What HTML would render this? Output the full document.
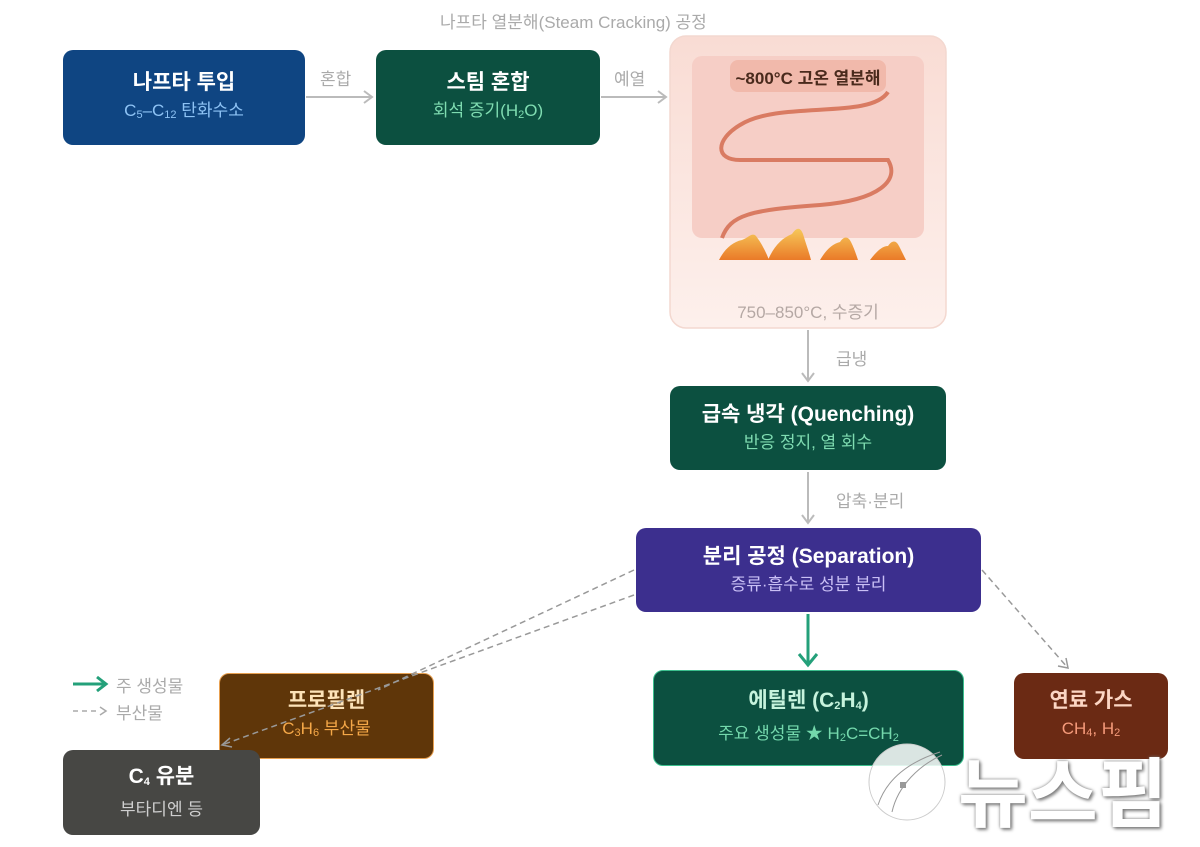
<!DOCTYPE html>
<html><head><meta charset="utf-8"><style>
body{margin:0;width:1200px;height:847px;background:#fff;position:relative;overflow:hidden;font-family:"Liberation Sans","Noto Sans CJK KR",sans-serif}
.b{position:absolute;border-radius:10px;display:flex;flex-direction:column;align-items:center;justify-content:center;text-align:center}
.t{font-size:21px;font-weight:bold;color:#fff;line-height:30px}
.s{font-size:17px;line-height:26px}
.l{position:absolute;font-size:17px;color:#aaa}
sub{font-size:11px;vertical-align:-2px}
</style></head><body>
<svg width="1200" height="847" style="position:absolute;left:0;top:0">
<defs>
<linearGradient id="fg" x1="0" y1="0" x2="0" y2="1"><stop offset="0" stop-color="#f9dcd4"/><stop offset="1" stop-color="#fdf0ec"/></linearGradient>
<linearGradient id="fl" x1="0" y1="0" x2="0" y2="1"><stop offset="0" stop-color="#f6c85a"/><stop offset="1" stop-color="#ea7a28"/></linearGradient>
</defs>
<g stroke="#bbb" stroke-width="2" fill="none">
<line x1="306" y1="97" x2="372" y2="97"/><polyline points="364,91 372,97 364,103"/>
<line x1="601" y1="97" x2="666" y2="97"/><polyline points="658,91 666,97 658,103"/>
<line x1="808" y1="330" x2="808" y2="381"/><polyline points="802,373 808,381 814,373"/>
<line x1="808" y1="472" x2="808" y2="523"/><polyline points="802,515 808,523 814,515"/>
</g>
<line x1="808" y1="614" x2="808" y2="664" stroke="#24a07a" stroke-width="3"/>
<polyline points="799,654 808,665 817,654" stroke="#24a07a" stroke-width="3" fill="none"/>
<rect x="670" y="36" width="276" height="292" rx="16" fill="url(#fg)" stroke="#f3d8d0" stroke-width="1.5"/>
<rect x="692" y="56" width="232" height="182" rx="10" fill="#f6cec6"/>
<rect x="730" y="60" width="156" height="32" rx="8" fill="#f1b9ab"/>
<path d="M888,92 C870,120 780,100 740,125 C715,140 715,160 740,160 L888,160 C900,180 880,200 820,205 C750,210 730,215 722,238" stroke="#d97b62" stroke-width="4" fill="none"/>
<path d="M719,260 C724,250 732,242 742,240 C748,238 752,232 756,236 C762,244 766,252 769,260Z M768,260 C774,246 782,238 792,234 C796,228 800,226 803,234 C806,244 809,252 811,260Z M820,260 C826,250 832,244 840,242 C844,236 848,236 851,242 C854,248 856,254 858,260Z M870,260 C876,252 882,246 888,246 C892,240 896,240 899,246 C902,252 904,256 906,260Z" fill="url(#fl)"/>
<line x1="73" y1="684" x2="104" y2="684" stroke="#24a07a" stroke-width="3"/>
<polyline points="97,677 106,684 97,691" stroke="#24a07a" stroke-width="3" fill="none"/>
<line x1="73" y1="711" x2="100" y2="711" stroke="#aaa" stroke-width="1.5" stroke-dasharray="5,4"/>
<polyline points="100,707 106,711 100,715" stroke="#aaa" stroke-width="1.5" fill="none"/>
</svg>
<div class="l" style="left:440px;top:8px">나프타 열분해(Steam Cracking) 공정</div>
<div class="l" style="left:320px;top:65px">혼합</div>
<div class="l" style="left:614px;top:65px">예열</div>
<div class="l" style="left:836px;top:345px">급냉</div>
<div class="l" style="left:836px;top:487px">압축·분리</div>
<div class="l" style="left:116px;top:672px">주 생성물</div>
<div class="l" style="left:116px;top:699px">부산물</div>
<div style="position:absolute;left:730px;top:64px;width:156px;text-align:center;font-size:17px;font-weight:bold;color:#4a2a1c">~800°C 고온 열분해</div>
<div class="l" style="left:670px;width:276px;text-align:center;top:298px;color:#b5a8a4">750–850°C, 수증기</div>
<div class="b" style="left:63px;top:50px;width:242px;height:95px;background:#0f4582"><div class="t">나프타 투입</div><div class="s" style="color:#8ec3f5">C<sub>5</sub>–C<sub>12</sub> 탄화수소</div></div>
<div class="b" style="left:376px;top:50px;width:224px;height:95px;background:#0c5040"><div class="t">스팀 혼합</div><div class="s" style="color:#7fdcb1">회석 증기(H<sub>2</sub>O)</div></div>
<div class="b" style="left:670px;top:386px;width:276px;height:84px;background:#0c5040"><div class="t">급속 냉각 (Quenching)</div><div class="s" style="color:#7fdcb1">반응 정지, 열 회수</div></div>
<div class="b" style="left:636px;top:528px;width:345px;height:84px;background:#3c2f8e"><div class="t">분리 공정 (Separation)</div><div class="s" style="color:#c9bff5">증류·흡수로 성분 분리</div></div>
<div class="b" style="left:219px;top:673px;width:215px;height:86px;background:#5f3609;border:1px solid #e8a050;box-sizing:border-box"><div class="t" style="color:#fde3b8">프로필렌</div><div class="s" style="color:#f5a848">C<sub>3</sub>H<sub>6</sub> 부산물</div></div>
<div class="b" style="left:63px;top:750px;width:197px;height:85px;background:#474744"><div class="t">C<sub>4</sub> 유분</div><div class="s" style="color:#cfcfcf">부타디엔 등</div></div>
<div class="b" style="left:653px;top:670px;width:311px;height:96px;background:#0c5040;border:1px solid #3bbf8d;box-sizing:border-box"><div class="t" style="color:#c6f3dd">에틸렌 (C<sub>2</sub>H<sub>4</sub>)</div><div class="s" style="color:#74d8ac">주요 생성물 ★ H<sub>2</sub>C=CH<sub>2</sub></div></div>
<div class="b" style="left:1014px;top:673px;width:154px;height:86px;background:#6b2a14"><div class="t" style="color:#fcd6c4">연료 가스</div><div class="s" style="color:#f59a7a">CH<sub>4</sub>, H<sub>2</sub></div></div>
<svg width="1200" height="847" style="position:absolute;left:0;top:0">
<g stroke="#999" stroke-width="1.5" fill="none" stroke-dasharray="6,4">
<line x1="634" y1="570" x2="378" y2="690"/>
<line x1="634" y1="595" x2="222" y2="745"/>
<line x1="982" y1="570" x2="1068" y2="668"/>
</g>
<polyline points="1058,666 1068,668 1066,658" stroke="#999" stroke-width="1.5" fill="none"/>
<polyline points="230,738 222,745 232,747" stroke="#999" stroke-width="1.5" fill="none"/>
<circle cx="907" cy="782" r="38" fill="#fff" fill-opacity="0.85" stroke="#ccc"/>
<path d="M878,805 C888,775 915,760 940,752 M892,812 C898,785 920,765 942,755" stroke="#999" fill="none"/>
<rect x="900" y="782" width="6" height="6" fill="#999"/>
</svg>
<div style="position:absolute;left:958px;top:733px;font-size:76px;font-weight:bold;color:#fff;text-shadow:0 0 3px #777,2px 2px 3px #888;letter-spacing:0px">뉴스핌</div>
</body></html>
